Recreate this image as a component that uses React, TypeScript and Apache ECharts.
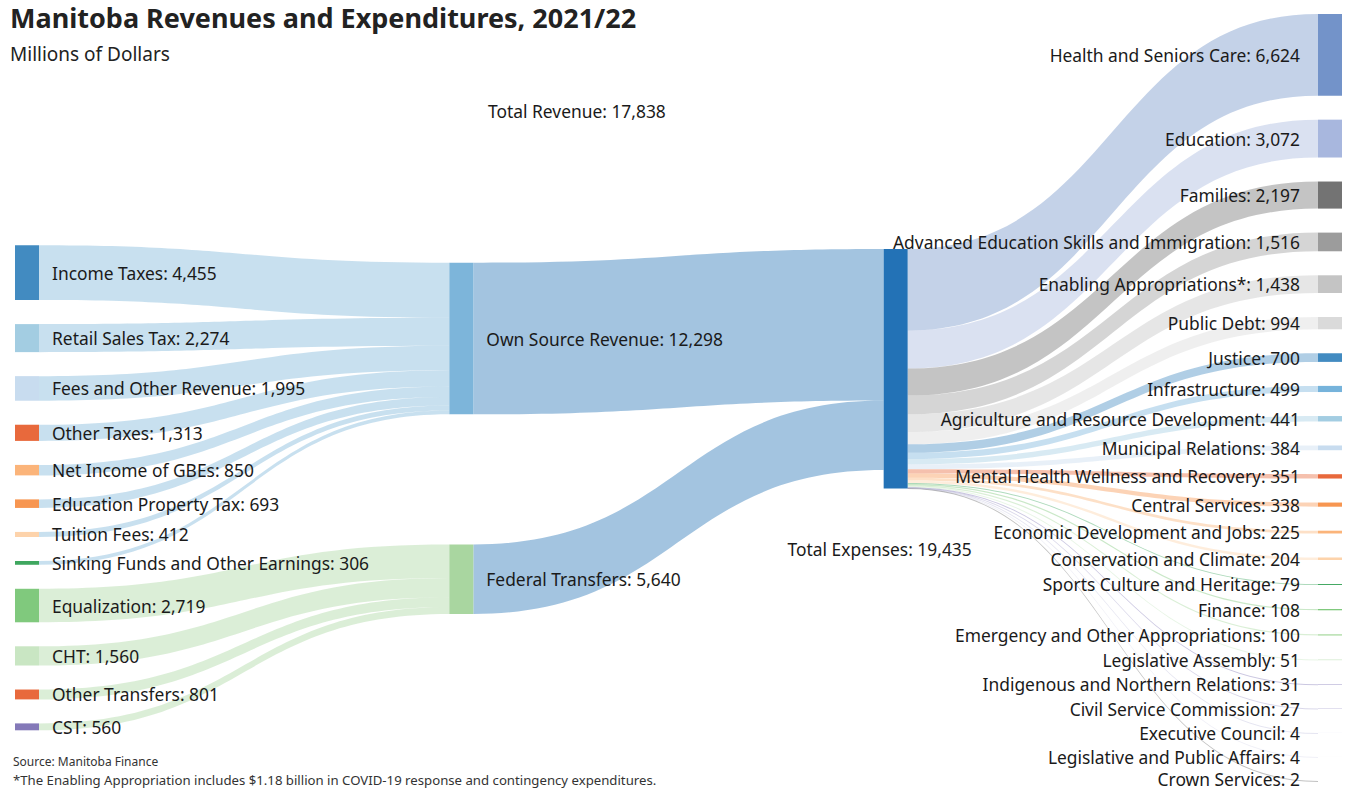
import React, { useEffect, useRef } from 'react';
import * as echarts from 'echarts';

const revenueSources = [
  'Income Taxes', 'Retail Sales Tax', 'Fees and Other Revenue', 'Other Taxes',
  'Education Property Tax', 'Net Income of GBEs', 'Tuition Fees',
  'Sinking Funds and Other Earnings', 'Equalization', 'CHT', 'CST', 'Other Transfers',
];
const revenueValues = [4455, 2274, 1995, 1313, 693, 850, 412, 306, 2719, 1560, 560, 801];
const revenueGroupIndex = [0, 0, 0, 0, 0, 0, 0, 0, 1, 1, 1, 1];
const revenueColors = [
  '#428bc1', '#a3cde2', '#c8dcef', '#e8693c', '#f79651', '#fbb47a', '#fdd3ab',
  '#3fa75f', '#80c97d', '#c9e6c3', '#8479b8', '#e8693c',
];

const groupNames = ['Own Source Revenue', 'Federal Transfers'];
const groupValues = [12298, 5640];
const groupColors = ['#7db5da', '#a9d6a0'];

const totalRevenue = 17838;
const totalExpensesName = 'Total Expenses';
const totalExpensesValue = 19435;
const totalColor = '#2372b6';

const expenseNames = [
  'Health and Seniors Care', 'Education', 'Families',
  'Advanced Education Skills and Immigration', 'Enabling Appropriations*',
  'Public Debt', 'Justice', 'Infrastructure', 'Agriculture and Resource Development',
  'Municipal Relations', 'Mental Health Wellness and Recovery', 'Central Services',
  'Economic Development and Jobs', 'Conservation and Climate',
  'Sports Culture and Heritage', 'Finance', 'Emergency and Other Appropriations',
  'Legislative Assembly', 'Indigenous and Northern Relations', 'Civil Service Commission',
  'Executive Council', 'Legislative and Public Affairs', 'Crown Services',
];
const expenseValues = [
  6624, 3072, 2197, 1516, 1438, 994, 700, 499, 441, 384, 351, 338, 225, 204,
  79, 108, 100, 51, 31, 27, 4, 4, 2,
];
const expenseColors = [
  '#7393c9', '#a8b7de', '#737373', '#9c9c9c', '#c4c4c4', '#dadada',
  '#428bc1', '#76b3db', '#a3cde2', '#c8dcef', '#e8693c', '#f79651', '#fbb47a', '#fdd3ab',
  '#3fa75f', '#80c97d', '#a6d99e', '#c9e6c3', '#8479b8', '#a6a1cd', '#c2c2de', '#dcdcec', '#6b6b6b',
];

const titleText = 'Manitoba Revenues and Expenditures, 2021/22';
const subtitleText = 'Millions of Dollars';
const sourceText = 'Source: Manitoba Finance';
const footnoteText =
  '*The Enabling Appropriation includes $1.18 billion in COVID-19 response and contingency expenditures.';

const FONT = 'Noto Sans';
const TEXT = '#1a1a1a';
const LABEL_SIZE = 17.4;
const fmt = (v: number) => v.toLocaleString('en-US');

export default function App() {
  const ref = useRef<HTMLDivElement>(null);

  useEffect(() => {
    if (!ref.current) return;
    const chart = echarts.init(ref.current, undefined, { renderer: 'svg' });

    const nodes: any[] = [];
    revenueSources.forEach((n, i) =>
      nodes.push({
        name: n, value: revenueValues[i], depth: 0,
        itemStyle: { color: revenueColors[i] },
        label: { position: 'right' },
      })
    );
    groupNames.forEach((n, i) =>
      nodes.push({
        name: n, value: groupValues[i], depth: 1,
        itemStyle: { color: groupColors[i] },
        label: { position: 'right' },
      })
    );
    nodes.push({
      name: totalExpensesName, value: totalExpensesValue, depth: 2,
      itemStyle: { color: totalColor },
      label: { position: 'bottom', offset: [-16, 38] },
    });
    expenseNames.forEach((n, i) =>
      nodes.push({
        name: n, value: expenseValues[i], depth: 3,
        itemStyle: { color: expenseColors[i] },
        label: {
          position: 'left',
          distance: 18,
          offset: i === expenseNames.length - 1 ? [0, -2] : [0, 0],
        },
      })
    );

    const links: any[] = [];
    revenueSources.forEach((n, i) =>
      links.push({ source: n, target: groupNames[revenueGroupIndex[i]], value: revenueValues[i] })
    );
    groupNames.forEach((n, i) =>
      links.push({ source: n, target: totalExpensesName, value: groupValues[i] })
    );
    expenseNames.forEach((n, i) =>
      links.push({ source: totalExpensesName, target: n, value: expenseValues[i] })
    );

    chart.setOption({
      animation: false,
      backgroundColor: '#ffffff',
      textStyle: { fontFamily: FONT },
      title: [
        {
          text: titleText,
          subtext: subtitleText,
          left: 5, top: -1,
          itemGap: 13,
          textStyle: { fontFamily: FONT, fontSize: 27, fontWeight: 'bold', color: '#222' },
          subtextStyle: { fontFamily: FONT, fontSize: 19, color: '#222' },
        },
        {
          text: sourceText,
          left: 8, top: 750,
          textStyle: { fontFamily: FONT, fontSize: 12, fontWeight: 'normal', color: '#333' },
        },
        {
          text: footnoteText,
          left: 8, top: 767,
          textStyle: {
            fontFamily: FONT, fontSize: 13.2, lineHeight: 15,
            fontWeight: 'normal', color: '#333',
          },
        },
      ],
      graphic: [
        {
          type: 'text',
          left: 488, top: 102,
          style: {
            text: `Total Revenue: ${fmt(totalRevenue)}`,
            font: `${LABEL_SIZE}px "${FONT}"`,
            fill: TEXT,
          },
        },
      ],
      series: [
        {
          type: 'sankey',
          left: 15, right: 6, top: 14, bottom: 9,
          nodeWidth: 24,
          nodeGap: 24,
          layoutIterations: 32,
          draggable: false,
          emphasis: { disabled: true },
          data: nodes,
          links,
          label: {
            fontFamily: FONT,
            fontSize: LABEL_SIZE,
            lineHeight: 18,
            color: TEXT,
            distance: 13,
            formatter: (p: any) => `${p.name}: ${fmt(p.value)}`,
          },
          lineStyle: { color: 'target', opacity: 0.42, curveness: 0.5 },
          itemStyle: { borderWidth: 0 },
        },
      ],
    });

    return () => chart.dispose();
  }, []);

  return (
    <div
      ref={ref}
      style={{ position: 'absolute', left: 0, top: 0, width: 1348, height: 790 }}
    />
  );
}
